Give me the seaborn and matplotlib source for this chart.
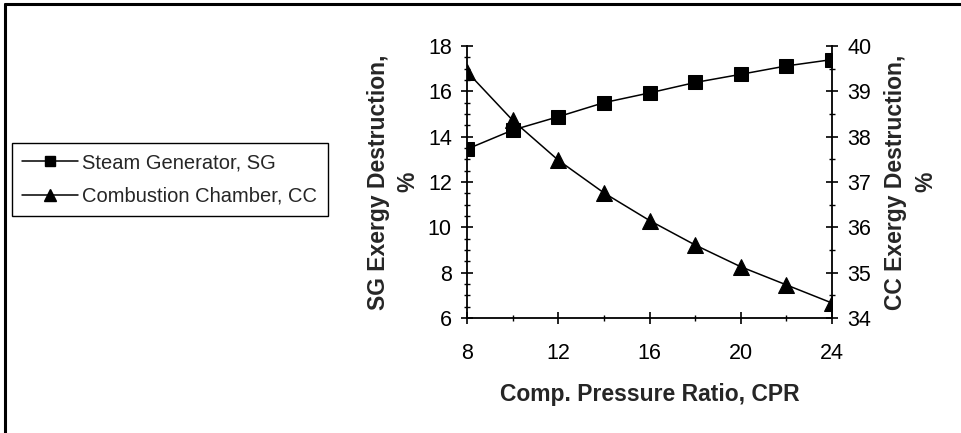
import matplotlib
matplotlib.use("Agg")
import matplotlib.pyplot as plt
import seaborn as sns
import pandas as pd
from matplotlib.ticker import MultipleLocator
from matplotlib.lines import Line2D

sns.set_theme(style="white")
plt.rcParams['font.family'] = ['Liberation Sans', 'DejaVu Sans']

cpr = [8, 10, 12, 14, 16, 18, 20, 22, 24]
sg_destruction = [13.45, 14.29, 14.88, 15.50, 15.93, 16.39, 16.75, 17.12, 17.40]
cc_destruction = [39.43, 38.36, 37.48, 36.76, 36.15, 35.61, 35.13, 34.73, 34.33]
sg_label = "Steam Generator, SG"
cc_label = "Combustion Chamber, CC"

df = pd.DataFrame({"CPR": cpr, "SG": sg_destruction, "CC": cc_destruction})

fig = plt.figure(figsize=(9.62, 4.33), dpi=100)
ax = fig.add_axes([0.4855, 0.2656, 0.8649 - 0.4855, 0.8938 - 0.2656])
ax2 = ax.twinx()

sns.lineplot(data=df, x="CPR", y="SG", ax=ax, color="black", lw=1.1,
             marker="s", markersize=10, markeredgecolor="black", legend=False)
sns.lineplot(data=df, x="CPR", y="CC", ax=ax2, color="black", lw=1.1,
             marker="^", markersize=12, markeredgecolor="black", legend=False)

ax.set_xlim(8, 24)
ax.set_ylim(6, 18)
ax2.set_ylim(34, 40)
ax.xaxis.set_major_locator(MultipleLocator(4))
ax.xaxis.set_minor_locator(MultipleLocator(2))
ax.yaxis.set_major_locator(MultipleLocator(2))
ax.yaxis.set_minor_locator(MultipleLocator(0.5))
ax2.yaxis.set_major_locator(MultipleLocator(1))
ax2.yaxis.set_minor_locator(MultipleLocator(0.5))

for a in (ax, ax2):
    for s in a.spines.values():
        s.set_visible(False)
ax.spines['left'].set_visible(True)
ax.spines['bottom'].set_visible(True)
ax2.spines['right'].set_visible(True)
for s in ['left', 'bottom']:
    ax.spines[s].set_color('black'); ax.spines[s].set_linewidth(1.3)
ax2.spines['right'].set_color('black'); ax2.spines['right'].set_linewidth(1.3)

ax.tick_params(axis='both', which='major', direction='inout', length=8, width=1.2,
               color='black', labelsize=15.5, labelcolor='black', pad=7)
ax.tick_params(axis='both', which='minor', direction='inout', length=5, width=1.0, color='black')
ax.tick_params(axis='x', which='major', pad=14)
ax.tick_params(left=True, bottom=True, which='both')
ax2.tick_params(axis='y', which='major', direction='inout', length=8, width=1.2,
                color='black', labelsize=15.5, labelcolor='black', right=True, pad=7)
ax2.tick_params(axis='y', which='minor', direction='inout', length=5, width=1.0,
                color='black', right=True)

ax.set_xlabel("Comp. Pressure Ratio, CPR", fontsize=16.5, fontweight='bold', labelpad=14)
ax.set_ylabel("SG Exergy Destruction,\n%", fontsize=16.5, fontweight='bold', labelpad=6,
              linespacing=1.35)
ax2.set_ylabel("CC Exergy Destruction,\n%", fontsize=16.5, fontweight='bold', labelpad=9,
               linespacing=1.4)

handles = [Line2D([0], [0], color='black', lw=1.1, marker='s', markersize=7),
           Line2D([0], [0], color='black', lw=1.1, marker='^', markersize=8)]
leg = fig.legend(handles, [sg_label, cc_label], loc='upper left',
                 bbox_to_anchor=(12 / 962, 1 - 143 / 433), frameon=True, fancybox=False,
                 edgecolor='black', fontsize=14.5, handlelength=2.8, borderpad=0.5,
                 labelspacing=0.72, handletextpad=0.2, borderaxespad=0, framealpha=1)
leg.get_frame().set_linewidth(1.0)

# outer chart border (top and left visible)
fig.add_artist(Line2D([5 / 962, 5 / 962], [0, 1 - 4 / 433], color='black', lw=2.2,
                      transform=fig.transFigure))
fig.add_artist(Line2D([5 / 962, 1], [1 - 4 / 433, 1 - 4 / 433], color='black', lw=2.2,
                      transform=fig.transFigure))

fig.savefig("out.png", dpi=100)
